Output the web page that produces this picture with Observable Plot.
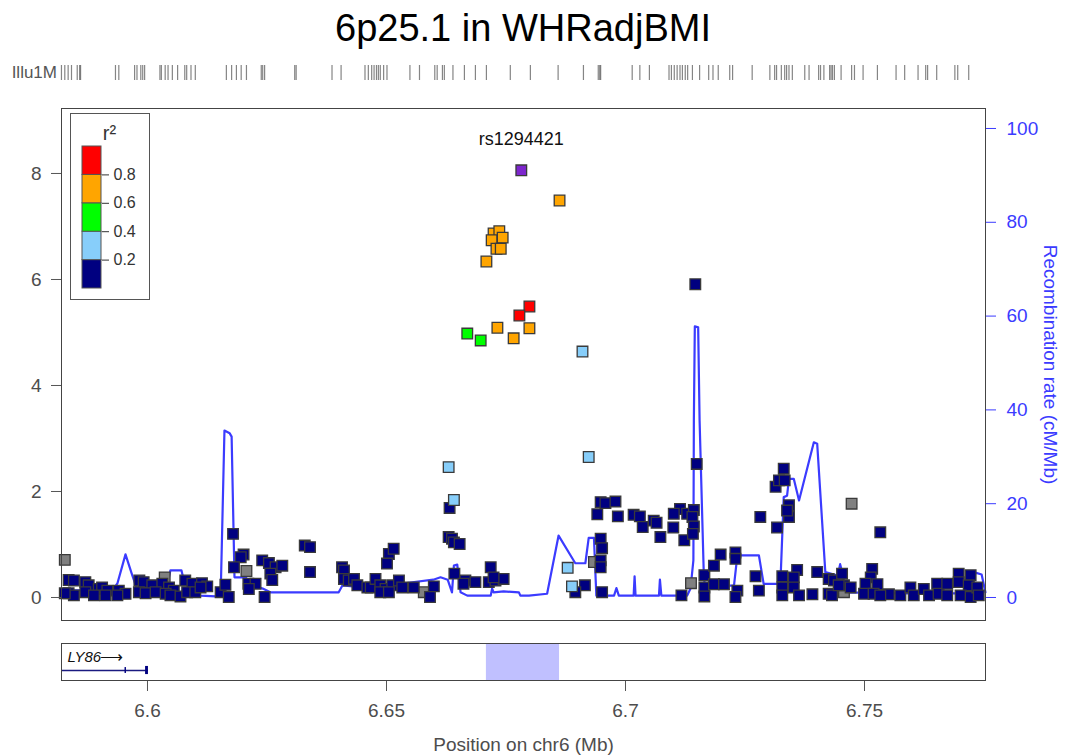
<!DOCTYPE html>
<html>
<head>
<meta charset="utf-8">
<script src="https://cdn.jsdelivr.net/npm/d3@7"></script>
<script src="https://cdn.jsdelivr.net/npm/@observablehq/plot@0.6"></script>
<style>
  body { margin: 0; background: #fff; font-family: "Liberation Sans", Arial, sans-serif; }
  #page { position: relative; width: 1068px; height: 755px; overflow: hidden; background: #fff; }
  #page svg { position: absolute; left: 0; }
  .title { position: absolute; left: 61px; width: 924px; top: 9px; text-align: center;
           font-size: 38px; line-height: 38px; color: #000; }
  .rug-label { position: absolute; left: 0; width: 57px; top: 64px; text-align: right;
               font-size: 17px; line-height: 17px; color: #555; }
</style>
</head>
<body>
<div id="page"></div>
<script>
// ---- region ----
const chartTitle = "6p25.1 in WHRadjBMI";
const chromosome = "chr6";
const xDomain = [6.58201, 6.77531];          // Mb
const xTicks = [6.6, 6.65, 6.7, 6.75];
const logpTicks = [0, 2, 4, 6, 8];
const rateTicks = [0, 20, 40, 60, 80, 100];   // cM/Mb
const rateMax = 100;                          // cM/Mb shown at the top of the right axis
const logpAtRateMax = 8.849;                  // -log10(p) level that the right axis maximum lines up with

// ---- LD (r^2) classes ----
const ldBreaks = [0.2, 0.4, 0.6, 0.8];
const ldColors = ["#000080", "#87CEFA", "#00FF00", "#FFA500", "#FF0000"];
const leadColor = "#7D26CD";
const missingColor = "#808080";

// ---- index SNP ----
const leadSnp = { name: "rs1294421", pos: 6.6782, logp: 8.06 };

// ---- association results: [position (Mb), -log10 p] by r^2 class ----
const snpsRed = [[6.6799, 5.49], [6.6778, 5.32]];
const snpsOrange = [
  [6.6862, 7.49], [6.6724, 6.87], [6.6736, 6.91], [6.6720, 6.74], [6.6743, 6.79],
  [6.6730, 6.58], [6.6739, 6.58], [6.6709, 6.34], [6.6732, 5.09], [6.6799, 5.08], [6.6766, 4.89]
];
const snpsGreen = [[6.6669, 4.98], [6.6697, 4.85]];
const snpsLightBlue = [
  [6.6910, 4.64], [6.6630, 2.46], [6.6641, 1.84], [6.6923, 2.65], [6.6879, 0.56], [6.6888, 0.21]
];
const snpsMissing = [
  [6.5827, 0.71], [6.6036, 0.38], [6.6207, 0.50], [6.6578, 0.10],
  [6.6934, 0.67], [6.7137, 0.27], [6.7473, 1.77], [6.7457, 0.10]
];
const snpsNavy = [
  [6.5835,0.33],[6.5846,0.32],[6.5870,0.29],[6.5877,0.23],[6.5898,0.16],[6.5905,0.19],[6.5916,0.13],
  [6.5835,0.08],[6.5846,0.04],[6.5870,0.10],[6.5888,0.04],[6.5912,0.04],[6.5827,0.08],[6.5940,0.13],
  [6.5954,0.07],[6.5937,0.04],
  [6.5983,0.32],[6.5992,0.29],[6.6010,0.23],[6.6031,0.26],[6.6045,0.19],[6.6055,0.13],[6.5982,0.10],
  [6.5996,0.08],[6.6017,0.10],[6.6038,0.07],[6.6048,0.04],[6.6069,0.02],
  [6.6079,0.32],[6.6094,0.26],[6.6114,0.27],[6.6125,0.21],[6.6083,0.10],[6.6100,0.10],[6.6111,0.19],
  [6.6153,0.10],[6.6163,0.24],[6.6170,0.01],
  [6.6179,1.20],[6.6201,0.81],[6.6195,0.76],[6.6181,0.57],[6.6211,0.26],[6.6226,0.26],[6.6212,0.16],
  [6.6245,0.01],
  [6.6240,0.70],[6.6254,0.65],[6.6268,0.57],[6.6282,0.60],[6.6257,0.45],[6.6261,0.33],
  [6.6329,0.98],[6.6340,0.95],[6.6340,0.48],
  [6.6407,0.57],[6.6411,0.51],[6.6411,0.35],[6.6421,0.32],[6.6432,0.35],[6.6439,0.23],[6.6460,0.19],
  [6.6467,0.19],
  [6.6505,0.82],[6.6515,0.92],[6.6501,0.64],[6.6477,0.35],[6.6487,0.23],[6.6498,0.16],[6.6512,0.23],
  [6.6526,0.32],[6.6533,0.19],[6.6487,0.10],[6.6505,0.10],
  [6.6557,0.19],[6.6599,0.21],[6.6591,0.01],
  [6.6632,1.69],[6.6630,1.14],[6.6637,1.11],[6.6641,1.04],[6.6653,1.01],[6.6642,0.45],[6.6665,0.32],
  [6.6686,0.29],[6.6661,0.26],
  [6.6718,0.57],[6.6714,0.29],[6.6728,0.32],[6.6745,0.35],[6.6724,0.38],
  [6.6915,0.23],[6.6895,0.10],
  [6.6948,1.80],[6.6958,1.78],[6.6979,1.81],[6.6941,1.57],[6.6984,1.53],[6.6948,1.11],[6.6951,0.93],
  [6.6948,0.70],[6.6948,0.57],[6.6951,0.10],
  [6.7017,1.56],[6.7030,1.53],[6.7036,1.33],[6.7059,1.45],[6.7065,1.41],[6.7073,1.14],[6.7100,1.32],
  [6.7123,1.08],[6.7114,1.67],[6.7101,1.58],[6.7129,1.58],[6.7143,1.65],[6.7140,1.52],[6.7143,1.34],
  [6.7141,1.20],
  [6.7149,2.52],[6.7146,5.91],[6.7117,0.04],
  [6.7165,0.42],[6.7185,0.60],[6.7199,0.81],[6.7230,0.85],[6.7230,0.73],[6.7165,0.19],[6.7185,0.25],
  [6.7206,0.25],[6.7165,0.02],[6.7234,0.13],[6.7230,0.01],
  [6.7272,0.40],[6.7279,0.13],[6.7282,1.52],[6.7317,1.32],[6.7314,2.09],[6.7321,2.21],[6.7331,2.43],
  [6.7333,2.21],[6.7342,1.74],[6.7342,1.52],[6.7338,1.64],
  [6.7328,0.40],[6.7359,0.52],[6.7352,0.38],[6.7328,0.19],[6.7352,0.19],[6.7328,0.04],[6.7363,0.04],
  [6.7391,0.06],[6.7401,0.48],
  [6.7425,0.35],[6.7436,0.32],[6.7453,0.45],[6.7457,0.23],[6.7471,0.19],[6.7425,0.07],[6.7432,0.04],
  [6.7446,0.23],
  [6.7533,1.23],[6.7516,0.54],[6.7513,0.38],[6.7502,0.26],[6.7527,0.25],[6.7499,0.07],[6.7519,0.07],
  [6.7551,0.06],[6.7533,0.04],
  [6.7575,0.04],[6.7596,0.19],[6.7603,0.04],[6.7624,0.16],[6.7635,0.04],[6.7652,0.26],[6.7655,0.07],
  [6.7673,0.04],[6.7673,0.26],
  [6.7697,0.45],[6.7722,0.42],[6.7697,0.29],[6.7718,0.23],[6.7701,0.04],[6.7722,0.01],[6.7736,0.19],
  [6.7739,0.04]
];

// ---- recombination rate (cM/Mb) ----
const recombPos = [
  6.5820,6.5927,6.5937,6.5954,6.5967,6.5977,6.6040,6.6048,6.6071,6.6077,6.6111,6.6153,6.6161,6.6172,
  6.6176,6.6182,6.6205,6.6220,6.6241,6.6257,6.6400,6.6408,6.6435,6.6529,6.6550,6.6598,6.6613,6.6628,
  6.6637,6.6641,6.6648,6.6655,6.6669,6.6718,6.6721,6.6724,6.6745,6.6777,6.6780,6.6798,6.6836,6.6860,
  6.6895,6.6916,6.6923,6.6934,6.6939,6.6976,6.6981,6.6986,6.7017,6.7019,6.7021,6.7070,6.7072,6.7075,
  6.7129,6.7136,6.7142,6.7143,6.7145,6.7152,6.7155,6.7164,6.7167,6.7227,6.7234,6.7279,6.7289,6.7324,
  6.7331,6.7338,6.7342,6.7352,6.7363,6.7394,6.7401,6.7418,6.7444,6.7449,6.7454,6.7460,6.7575,6.7722,
  6.7732,6.7745,6.7753
];
const recombRate = [
  1.5,1.5,3.0,9.2,5.1,2.1,1.9,5.8,5.8,3.2,0.4,0.2,35.6,35.0,
  34.3,4.3,4.3,2.6,1.9,1.1,1.1,2.6,2.3,2.8,3.2,3.8,4.3,3.8,
  1.1,6.8,7.0,1.1,0.4,0.4,1.9,1.1,1.3,1.1,0.4,0.4,0.8,13.2,
  7.3,7.3,12.7,12.7,0.4,0.4,2.0,0.4,0.4,4.5,0.4,0.4,3.8,0.4,
  0.4,1.9,7.9,37.7,57.8,57.6,37.7,4.1,2.2,2.6,9.0,9.0,2.9,2.9,
  21.4,21.7,25.3,25.3,20.7,33.1,32.8,5.4,4.7,7.1,5.1,1.1,0.9,0.9,
  5.3,4.9,1.1
];

// ---- genotyping array coverage (Illumina 1M) ----
const arrayName = "Illu1M";
const arrayPos = [
  6.5820,6.5827,6.5834,6.5841,6.5853,6.5858,6.5860,6.5933,6.5940,6.5973,6.5978,6.5986,6.5990,6.5994,
  6.6026,6.6029,6.6037,6.6043,6.6052,6.6063,6.6078,6.6082,6.6091,6.6100,6.6165,6.6176,6.6186,6.6196,
  6.6207,6.6238,6.6241,6.6245,6.6308,6.6311,6.6386,6.6405,6.6455,6.6462,6.6469,6.6474,6.6479,6.6483,
  6.6487,6.6494,6.6501,6.6549,6.6569,6.6601,6.6606,6.6617,6.6621,6.6639,6.6663,6.6686,6.6709,6.6759,
  6.6801,6.6859,6.6912,6.6943,6.6946,6.6948,6.7014,6.7030,6.7050,6.7091,6.7096,6.7102,6.7108,6.7114,
  6.7119,6.7125,6.7130,6.7140,6.7155,6.7174,6.7183,6.7194,6.7218,6.7224,6.7265,6.7302,6.7312,6.7316,
  6.7326,6.7333,6.7337,6.7342,6.7349,6.7375,6.7384,6.7404,6.7408,6.7415,6.7427,6.7430,6.7433,6.7437,
  6.7451,6.7473,6.7479,6.7497,6.7527,6.7566,6.7584,6.7612,6.7628,6.7632,6.7651,6.7689,6.7695,6.7718
];

// ---- genes ----
const genes = [{ name: "LY86", start: 6.5500, end: 6.6002, strand: "+" }];
const ly86Exons = [[6.5953, 6.5956, "small"], [6.5996, 6.6002, "large"]];
const highlightRegion = [6.6709, 6.6862];

// ---------------------------------------------------------------
const FONT = "'Liberation Sans', Arial, sans-serif";
const AXIS_GREY = "#4d4d4d";
const RECOMB_BLUE = "#3b3bff";
const page = document.getElementById("page");

function place(el, top) { el.style.top = top + "px"; page.appendChild(el); return el; }

// Title and array label
const titleDiv = document.createElement("div");
titleDiv.className = "title";
titleDiv.textContent = chartTitle;
page.appendChild(titleDiv);

const rugLabel = document.createElement("div");
rugLabel.className = "rug-label";
rugLabel.textContent = arrayName;
page.appendChild(rugLabel);

// Array coverage rug
const rug = Plot.plot({
  width: 1068, height: 30, marginTop: 5, marginBottom: 10, marginLeft: 61, marginRight: 83,
  x: { domain: xDomain, axis: null },
  style: { background: "transparent" },
  marks: [
    Plot.tickX(arrayPos, { x: d => d, stroke: "#333", strokeOpacity: 0.6, strokeWidth: 1.2 })
  ]
});
place(rug, 60);

// Association panel
const bins = [
  { rows: snpsMissing, color: missingColor },
  { rows: snpsNavy, color: ldColors[0] },
  { rows: snpsLightBlue, color: ldColors[1] },
  { rows: snpsGreen, color: ldColors[2] },
  { rows: snpsOrange, color: ldColors[3] },
  { rows: snpsRed, color: ldColors[4] }
];
const snpRows = bins.flatMap(b => b.rows.map(([pos, logp]) => ({ pos, logp, color: b.color })));
snpRows.push({ pos: leadSnp.pos, logp: leadSnp.logp, color: leadColor });

const recomb = recombPos.map((pos, i) => ({ pos, rate: recombRate[i] }));
const rateToLogp = r => r / rateMax * logpAtRateMax;

const main = Plot.plot({
  width: 1068, height: 530, marginTop: 8, marginBottom: 10, marginLeft: 61, marginRight: 83,
  x: { domain: xDomain, axis: null },
  y: { domain: [-0.434, 9.226], axis: null },
  color: { type: "identity" },
  style: { background: "transparent", fontFamily: FONT, fontSize: "19px" },
  marks: [
    Plot.line(recomb, { x: "pos", y: d => rateToLogp(d.rate), stroke: RECOMB_BLUE, strokeWidth: 2.2 }),
    Plot.dot(snpRows, {
      x: "pos", y: "logp", symbol: "square", r: 6,
      fill: "color", stroke: "#3a3a3a", strokeWidth: 1.3
    }),
    Plot.text([leadSnp], { x: "pos", y: "logp", text: "name", dy: -31, fill: "#111", fontSize: 18 }),
    Plot.axisY({
      anchor: "left", ticks: logpTicks, tickSize: 10, tickPadding: 10,
      stroke: "#555", fill: AXIS_GREY, label: null, fontSize: 19
    }),
    Plot.axisY({
      anchor: "right", ticks: rateTicks.map(rateToLogp), tickFormat: v => String(Math.round(v / logpAtRateMax * rateMax)),
      tickSize: 10, tickPadding: 11, stroke: RECOMB_BLUE, fill: RECOMB_BLUE, label: null, fontSize: 19
    }),
    Plot.text(["Recombination rate (cM/Mb)"], {
      frameAnchor: "right", dx: 65, rotate: 90, textAnchor: "middle", lineAnchor: "middle",
      fill: RECOMB_BLUE, fontSize: 19
    }),
    Plot.frame({ stroke: "#444" })
  ]
});
place(main, 100);

// r^2 legend
const ldEdges = [0, ...ldBreaks, 1];
const legendRows = ldEdges.slice(0, -1).map((lo, i) => ({ lo, hi: ldEdges[i + 1] }));
const legend = Plot.plot({
  width: 78, height: 185, marginTop: 32, marginBottom: 11, marginLeft: 11, marginRight: 48,
  x: { domain: [0, 1], axis: null },
  y: { domain: [0, 1], axis: null },
  color: { type: "threshold", domain: ldBreaks, range: ldColors },
  style: { background: "#fff", fontFamily: FONT, fontSize: "16px", border: "1px solid #555" },
  marks: [
    Plot.rect(legendRows, { y1: "lo", y2: "hi", fill: "lo", stroke: "#555", strokeWidth: 1 }),
    Plot.axisY({
      anchor: "right", ticks: ldBreaks, tickFormat: d => d.toFixed(1),
      tickSize: 7, tickPadding: 5, stroke: "#333", fill: "#333", label: null, fontSize: 16
    }),
    Plot.text(["r²"], {
      frameAnchor: "top-right", dx: 8, dy: -13, textAnchor: "middle", lineAnchor: "middle",
      fill: "#333", fontSize: 20
    })
  ]
});
legend.style.left = "70px";
place(legend, 113);

// Gene panel with the position axis
const geneTrack = 0.27;
const genePlot = Plot.plot({
  width: 1068, height: 120, marginTop: 8, marginBottom: 75, marginLeft: 61, marginRight: 83,
  x: { domain: xDomain, axis: null },
  y: { domain: [0, 1], axis: null },
  style: { background: "transparent", fontFamily: FONT, fontSize: "19px" },
  marks: [
    Plot.rect([highlightRegion], { x1: d => d[0], x2: d => d[1], fill: "#c0c0ff" }),
    Plot.ruleY(genes, { y: geneTrack, x1: "start", x2: "end", stroke: "#1a1a80", strokeWidth: 1.5, clip: true }),
    Plot.rect(ly86Exons, {
      x1: d => d[0], x2: d => d[1],
      y1: d => geneTrack - (d[2] === "large" ? 0.11 : 0.08),
      y2: d => geneTrack + (d[2] === "large" ? 0.11 : 0.08),
      fill: "#000080", clip: true
    }),
    Plot.text(genes, {
      x: d => Math.max(d.start, xDomain[0]), y: 0.63, text: "name",
      textAnchor: "start", dx: 6, fontStyle: "italic", fontSize: 15, fill: "#111"
    }),
    Plot.text(genes, {
      x: d => Math.max(d.start, xDomain[0]), y: 0.63, text: d => (d.strand === "+" ? "⟶" : "⟵"),
      textAnchor: "start", dx: 38, fontSize: 16, fill: "#111"
    }),
    Plot.axisX({
      anchor: "bottom", ticks: xTicks, tickFormat: d => String(d), tickSize: 11, tickPadding: 12,
      stroke: "#555", fill: AXIS_GREY, label: null, fontSize: 19
    }),
    Plot.text([`Position on ${chromosome} (Mb)`], {
      frameAnchor: "bottom", dy: 64, lineAnchor: "middle", fill: AXIS_GREY, fontSize: 19
    }),
    Plot.frame({ stroke: "#444" })
  ]
});
place(genePlot, 635);
</script>
</body>
</html>
